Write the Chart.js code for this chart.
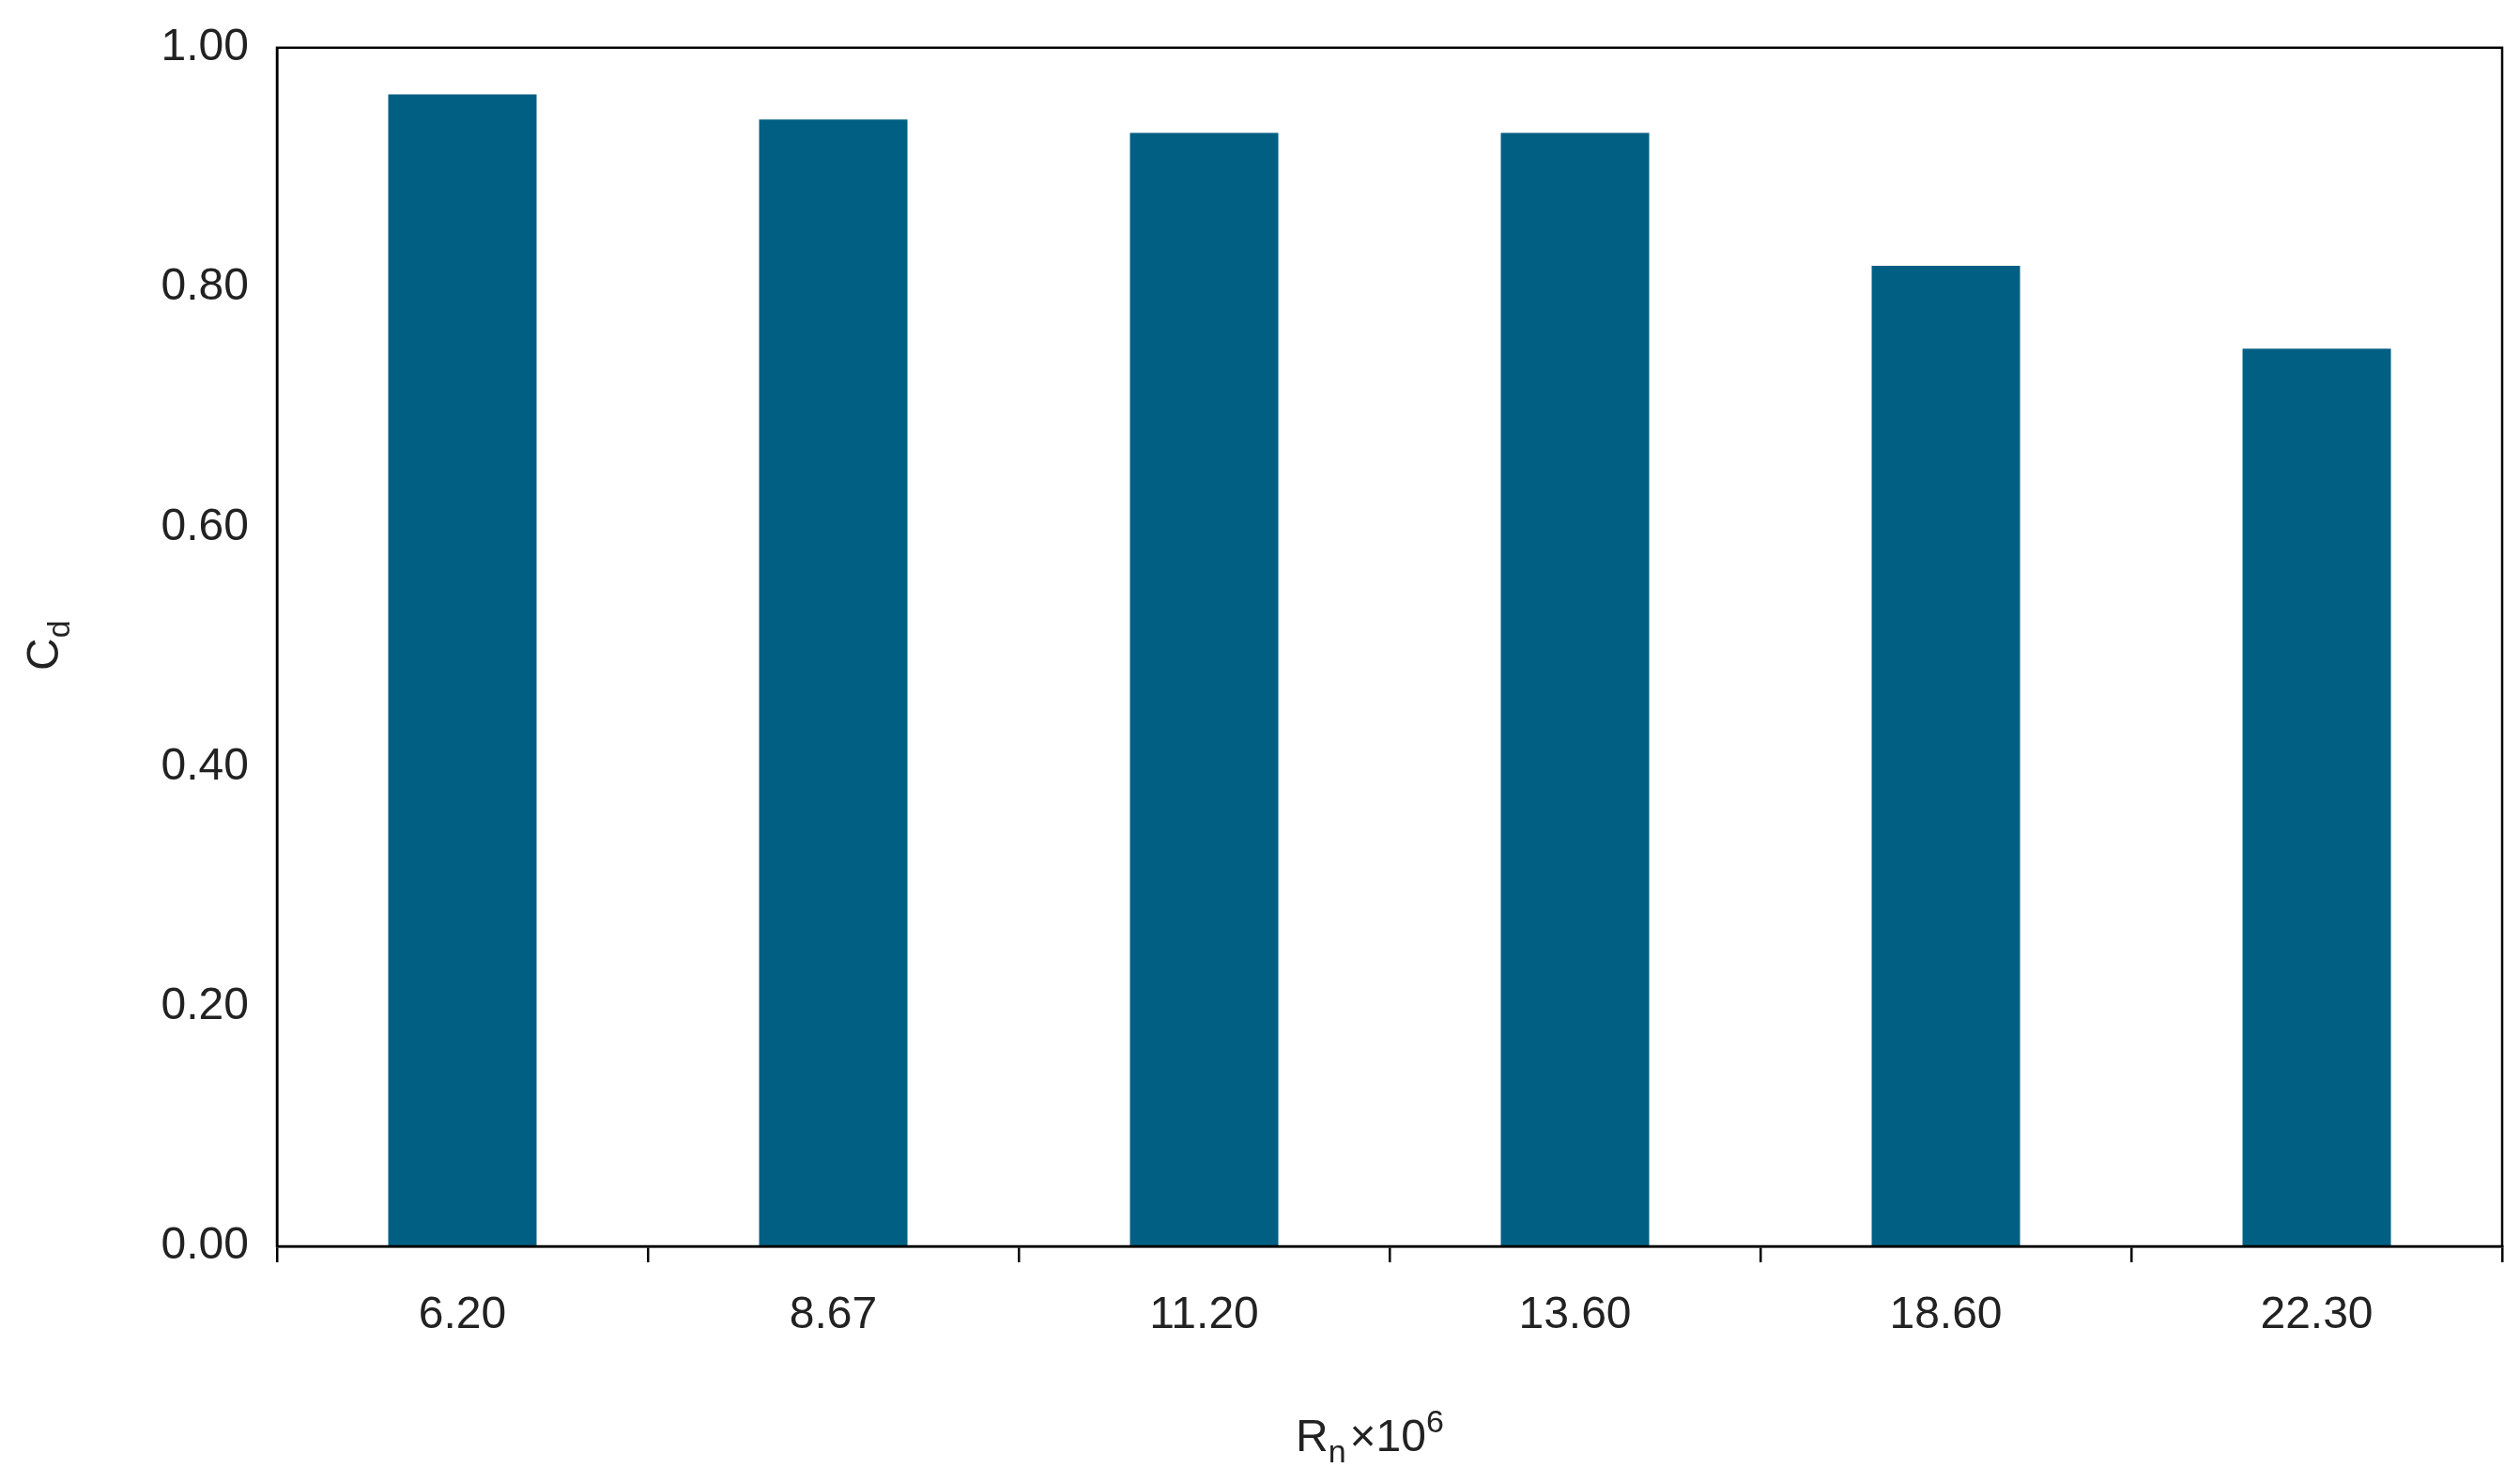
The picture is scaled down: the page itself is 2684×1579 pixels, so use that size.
<!DOCTYPE html>
<html><head><meta charset="utf-8">
<script src="https://cdn.jsdelivr.net/npm/chart.js@4/dist/chart.umd.min.js"></script>
<style>html,body{margin:0;padding:0;background:#fff}#w{width:2684px;height:1579px}</style>
</head><body><div id="w"><canvas id="c"></canvas></div>
<script>
const categories=["6.20","8.67","11.20","13.60","18.60","22.30"];
const cdValues=[0.961,0.940,0.929,0.929,0.818,0.749];
const yTicks=[0,0.2,0.4,0.6,0.8,1.0];
const F='"Liberation Sans", Arial, sans-serif';
const frame={id:'frame',afterDraw(ch){const c=ch.ctx,a=ch.chartArea;c.save();
c.strokeStyle='#000';c.lineWidth=2.5;c.strokeRect(a.left,a.top,a.right-a.left,a.bottom-a.top);
c.fillStyle='#222';c.textBaseline='alphabetic';
// x title
c.font='48px '+F;let x0=(a.left+a.right)/2-100,y0=1545;
c.textAlign='left';c.fillText('R',x0,y0);let w=c.measureText('R').width;
c.font='34px '+F;c.fillText('n',x0+w,y0+12);w+=c.measureText('n').width+4;
c.font='48px '+F;c.fillText('×10',x0+w,y0);w+=c.measureText('×10').width;
c.font='34px '+F;c.fillText('6',x0+w,y0-20);
// y title
c.translate(62,(a.top+a.bottom)/2);c.rotate(-Math.PI/2);
c.font='48px '+F;c.fillText('C',-25,0);let w2=c.measureText('C').width;
c.font='34px '+F;c.fillText('d',-25+w2,12);
c.restore();}};
new Chart(document.getElementById('c'),{type:'bar',
data:{labels:categories,datasets:[{data:cdValues,backgroundColor:'#005f83',categoryPercentage:1,barPercentage:0.4}]},
options:{responsive:true,maintainAspectRatio:false,animation:false,
layout:{padding:{top:48,right:19,left:0,bottom:0}},
plugins:{legend:{display:false},tooltip:{enabled:false}},
scales:{
x:{offset:true,grid:{display:true,drawOnChartArea:false,offset:true,tickLength:17,color:'#000',lineWidth:2.5},
border:{display:true,color:'#000',width:2.5},
ticks:{color:'#222',font:{size:48,family:F},padding:28},
afterFit(s){s.height=252;}},
y:{min:0,max:1,grid:{display:false},border:{display:true,color:'#000',width:2.5},
afterBuildTicks(s){s.ticks=yTicks.map(v=>({value:v}));},
ticks:{color:'#222',font:{size:48,family:F},padding:22,callback:v=>Number(v).toFixed(2)},
afterFit(s){s.width=295;}}}},
plugins:[frame]});
</script></body></html>
